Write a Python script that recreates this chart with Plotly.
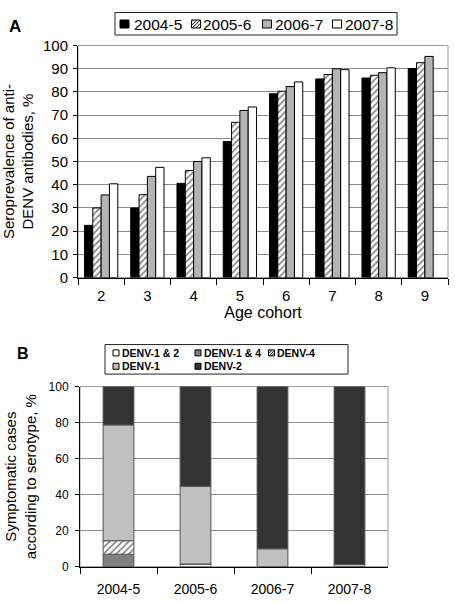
import plotly.graph_objects as go

# ---------------- Data ----------------
age_cohorts = ["2", "3", "4", "5", "6", "7", "8", "9"]
season_names = ["2004-5", "2005-6", "2006-7", "2007-8"]
sero_2004_5 = [22.5, 30.0, 40.6, 58.6, 79.2, 85.6, 86.0, 90.1]
sero_2005_6 = [30.0, 35.7, 46.1, 66.9, 80.3, 87.5, 87.2, 92.6]
sero_2006_7 = [35.6, 43.6, 50.0, 72.0, 82.3, 90.0, 88.3, 95.3]
sero_2007_8 = [40.4, 47.5, 51.6, 73.5, 84.3, 89.6, 90.4, None]

seasons = ["2004-5", "2005-6", "2006-7", "2007-8"]
serotype_names = ["DENV-1 & 2", "DENV-1 & 4", "DENV-4", "DENV-1", "DENV-2"]
denv_1_2 = [0.0, 1.5, 0.0, 0.0]
denv_1_4 = [6.9, 0.0, 0.0, 0.0]
denv_4 = [7.5, 0.0, 0.0, 0.0]
denv_1 = [64.3, 43.1, 9.9, 1.2]
denv_2 = [21.3, 55.4, 90.1, 98.8]

FONT = "Arial, Liberation Sans, sans-serif"
W = 455          # figure width
HF = 612         # figure height
# observed page -> photo mapping in y: photo_y = SY * fig_y + OY
SY, OY = 0.972, 8.5

fig = go.Figure()

HATCH = dict(shape="/", fgcolor="#000000", bgcolor="#ffffff", size=4.5, solidity=0.35)

# ---------- Panel A: grouped bars ----------
a_series = [sero_2004_5, sero_2005_6, sero_2006_7, sero_2007_8]
a_fill = ["#000000", "hatch", "#b4b4b4", "#ffffff"]
for name, vals, fill in zip(season_names, a_series, a_fill):
    st = dict(color="#ffffff", pattern=HATCH) if fill == "hatch" else dict(color=fill)
    fig.add_trace(go.Bar(
        x=age_cohorts, y=vals, name=name, xaxis="x", yaxis="y",
        marker=dict(line=dict(color="#000000", width=1), **st),
        offsetgroup=name, showlegend=False,
    ))

# ---------- Panel B: stacked bars (stacked via base) ----------
b_series = [denv_1_2, denv_1_4, denv_4, denv_1, denv_2]
b_fill = ["#ffffff", "#808080", "hatch", "#c0c0c0", "#333333"]
cum = [0.0] * len(seasons)
for name, vals, fill in zip(serotype_names, b_series, b_fill):
    st = dict(color="#ffffff", pattern=HATCH) if fill == "hatch" else dict(color=fill)
    fig.add_trace(go.Bar(
        x=seasons, y=vals, base=list(cum), name=name, xaxis="x2", yaxis="y2",
        marker=dict(line=dict(color="#555555", width=1), **st),
        offsetgroup="b", width=0.4, showlegend=False,
    ))
    cum = [c + v for c, v in zip(cum, vals)]


# ---------- helpers: target photo pixel -> paper fraction ----------
def px(x):
    return x / W


def py(y):
    return 1 - ((y - OY) / SY) / HF


shapes = [
    dict(type="rect", xref="x domain", yref="y domain", x0=0, x1=1, y0=0, y1=1,
         line=dict(color="#9a9a9a", width=1), layer="below"),
    dict(type="rect", xref="x2 domain", yref="y2 domain", x0=0, x1=1, y0=0, y1=1,
         line=dict(color="#9a9a9a", width=1), layer="below"),
]
annotations = []


def add_box(x0, y0, x1, y1):
    shapes.append(dict(type="rect", xref="paper", yref="paper",
                       x0=px(x0), x1=px(x1), y0=py(y1), y1=py(y0),
                       line=dict(color="#222222", width=1), fillcolor="white"))


def add_swatch(x0, y0, size_w, size_h, fill, step):
    x1, y1 = x0 + size_w, y0 + size_h
    shapes.append(dict(type="rect", xref="paper", yref="paper",
                       x0=px(x0), x1=px(x1), y0=py(y1), y1=py(y0),
                       line=dict(color="#000000", width=1),
                       fillcolor="#ffffff" if fill == "hatch" else fill))
    if fill == "hatch":
        h = size_h
        a = x0 - h + step / 2
        while a < x1:
            t0 = max(0.0, (x0 - a) / h)
            t1 = min(1.0, (x1 - a) / h)
            if t1 > t0:
                shapes.append(dict(type="line", xref="paper", yref="paper",
                                   x0=px(a + t0 * h), y0=py(y1 - t0 * h),
                                   x1=px(a + t1 * h), y1=py(y1 - t1 * h),
                                   line=dict(color="#000000", width=1)))
            a += step


def add_label(x, y, text, size, bold=False):
    annotations.append(dict(text=f"<b>{text}</b>" if bold else text,
                            x=px(x), y=py(y), xref="paper", yref="paper",
                            showarrow=False, xanchor="left", yanchor="middle",
                            font=dict(size=size), borderpad=0))


# Legend A
add_box(115, 12, 397, 34.5)
a_sw_x = [120, 191.5, 262.5, 332.5]
a_tx_x = [133, 202, 274, 344]
for name, fill, sx, tx in zip(season_names, a_fill, a_sw_x, a_tx_x):
    add_swatch(sx, 19.5, 9, 8, fill, 3.5)
    add_label(tx, 23.5, name, 15.5)

# Legend B
add_box(105, 344, 348, 373.5)
b_sw_pos = [(113, 349.3), (195, 349.3), (268.5, 349.3), (113, 362.7), (195, 362.7)]
for name, fill, (sx, sy) in zip(serotype_names, b_fill, b_sw_pos):
    add_swatch(sx, sy, 6, 6, fill, 2.6)
    add_label(sx + 7.5, sy + 3, name, 10.5, bold=True)

# Panel letters
annotations.append(dict(text="<b>A</b>", x=px(15), y=py(26), xref="paper", yref="paper",
                        showarrow=False, font=dict(size=17), xanchor="center", yanchor="middle"))
annotations.append(dict(text="<b>B</b>", x=px(23), y=py(353), xref="paper", yref="paper",
                        showarrow=False, font=dict(size=16), xanchor="center", yanchor="middle"))

fig.update_layout(
    width=W, height=HF,
    margin=dict(l=0, r=0, t=0, b=0),
    paper_bgcolor="white", plot_bgcolor="white",
    font=dict(family=FONT, color="#000000"),
    barmode="group", bargap=0.28, bargroupgap=0,
    showlegend=False,
    xaxis=dict(
        domain=[px(78), px(448)], anchor="y", type="category",
        showline=True, linecolor="#000000", linewidth=1,
        ticks="outside", tickson="boundaries", ticklen=6, tickcolor="#000000",
        tickfont=dict(size=15), showgrid=False, ticklabelstandoff=4,
        title=dict(text="Age cohort", font=dict(size=16), standoff=4),
    ),
    yaxis=dict(
        domain=[py(277), py(45)], anchor="x",
        range=[0, 100], dtick=10, tickfont=dict(size=15),
        showline=True, linecolor="#000000", linewidth=1,
        ticks="outside", ticklen=4, tickcolor="#000000", ticklabelstandoff=2,
        gridcolor="#8c8c8c", gridwidth=1, zeroline=False,
        title=dict(text="Seroprevalence of anti-<br>DENV antibodies, %", font=dict(size=15), standoff=6),
    ),
    xaxis2=dict(
        domain=[px(80), px(388)], anchor="y2", type="category",
        showline=True, linecolor="#000000", linewidth=1,
        ticks="outside", tickson="boundaries", ticklen=6, tickcolor="#000000",
        tickfont=dict(size=14), showgrid=False, ticklabelstandoff=10,
    ),
    yaxis2=dict(
        domain=[py(566), py(386)], anchor="x2",
        range=[0, 100], dtick=20, tickfont=dict(size=12),
        showline=True, linecolor="#000000", linewidth=1,
        ticks="outside", ticklen=4, tickcolor="#000000", ticklabelstandoff=4,
        gridcolor="#8c8c8c", gridwidth=1, zeroline=False,
        title=dict(text="Symptomatic cases<br>according to serotype, %", font=dict(size=15), standoff=8),
    ),
    shapes=shapes,
    annotations=annotations,
)

fig.write_html(
    "out.html",
    config={"displayModeBar": False},
    post_script="document.documentElement.style.margin='0';document.body.style.margin='0';document.body.style.padding='0';document.body.style.overflow='hidden';",
)
